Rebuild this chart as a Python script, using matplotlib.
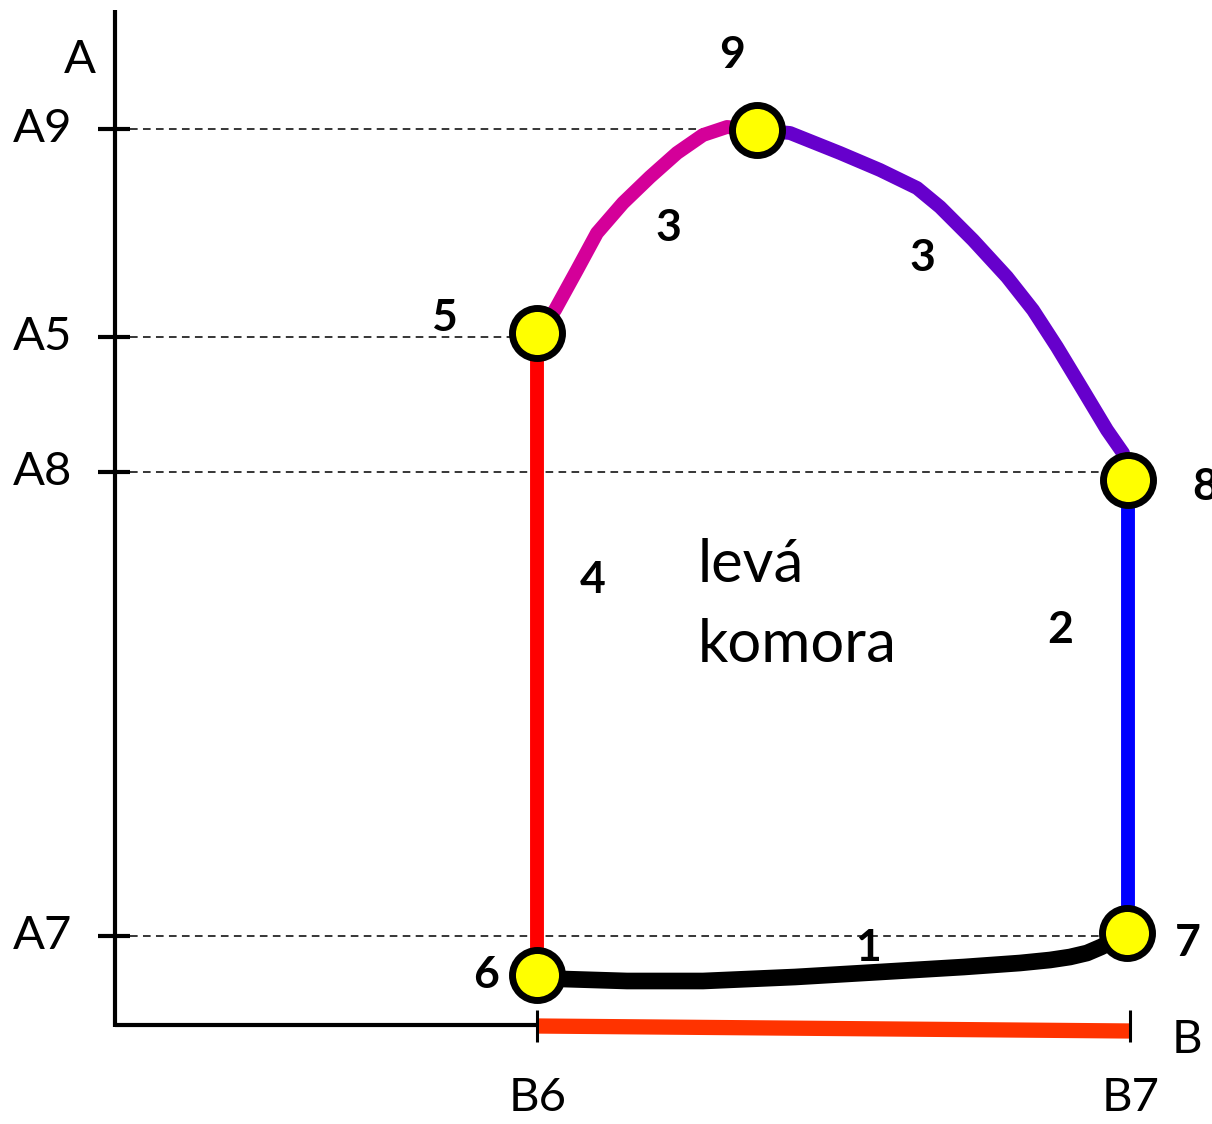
import matplotlib
matplotlib.use('Agg')

import matplotlib.pyplot as plt

plt.rcParams['font.family'] = ['Lato', 'DejaVu Sans']

# Schematic pressure-volume loop (arbitrary units, origin at the axes corner)
# Loop corner points: label, volume, pressure
point_labels = ['6', '7', '8', '9', '5']
point_vol = [422, 1012, 1013, 642, 422]
point_pres = [50, 92, 545, 895, 692]

# Segment 1 (6 -> 7), filling
seg1_vol = [422, 448, 512, 588, 680, 765, 849, 905, 935, 955, 972, 986, 998, 1012]
seg1_pres = [50, 46, 44, 44, 48, 53, 58, 62, 65, 68, 72, 78, 84, 92]
# Segment 2 (7 -> 8), isovolumic contraction
seg2_vol = [1013, 1013]
seg2_pres = [92, 545]
# Segment 3a (8 -> 9), ejection
seg3a_vol = [1013, 1008, 992, 968, 942, 918, 892, 858, 825, 802, 765, 725, 675, 642]
seg3a_pres = [545, 572, 595, 635, 678, 715, 748, 785, 818, 837, 855, 872, 892, 895]
# Segment 3b (9 -> 5)
seg3b_vol = [642, 612, 588, 562, 535, 508, 482, 462, 440, 422]
seg3b_pres = [895, 898, 890, 872, 848, 822, 792, 755, 715, 692]
# Segment 4 (5 -> 6), isovolumic relaxation
seg4_vol = [422, 422]
seg4_pres = [692, 50]

# Stroke volume bar on the volume axis
sv_vol = [422, 1015]
sv_pres = [-1, -6]

# Axis ticks
a_ticks = [896, 688, 553, 89]
a_labels = ['A9', 'A5', 'A8', 'A7']
a_ends = [642, 422, 1013, 1012]
b_ticks = [422, 1015]
b_labels = ['B6', 'B7']

# Segment numbers: text, volume, pressure
seg_text = ['1', '2', '3', '3', '4']
seg_vol = [753, 945, 553, 807, 478]
seg_pres = [77, 395, 797, 767, 445]

# Colours
C_SEG1 = 'black'
C_SEG2 = '#0000FF'
C_SEG3A = '#6600CC'
C_SEG3B = '#D40099'
C_SEG4 = '#FF0000'
C_SV = '#FF3300'
C_POINT = '#FFFF00'

fig = plt.figure(figsize=(12.12, 11.24), dpi=100)
ax = fig.add_axes([0, 0, 1, 1])
ax.set_xlim(-115, 1097)
ax.set_ylim(-99, 1025)
ax.axis('off')

# axes
ax.plot([0, 0], [-2, 1015], color='black', lw=3, solid_capstyle='butt')
ax.plot([0, 422], [0, 0], color='black', lw=3, solid_capstyle='butt')

# A ticks, labels and dashed guides
for val, lab, end in zip(a_ticks, a_labels, a_ends):
    ax.plot([-17, 15], [val, val], color='black', lw=3, solid_capstyle='butt')
    ax.plot([15, end], [val, val], color='black', lw=1.1, ls=(0, (5, 3.5)))
    ax.text(-43, val, lab, ha='right', va='center', fontsize=34)
ax.text(-35, 965, 'A', ha='center', va='center', fontsize=34)

# stroke volume bar and B ticks
ax.plot(sv_vol, sv_pres, color=C_SV, lw=11, solid_capstyle='butt')
for val, lab in zip(b_ticks, b_labels):
    ax.plot([val, val], [-17, 15], color='black', lw=2.2, solid_capstyle='butt')
    ax.text(val + 1, -73, lab, ha='center', va='center', fontsize=34)
ax.text(1072, -15, 'B', ha='center', va='center', fontsize=34)

# loop segments
kw = dict(solid_capstyle='butt', solid_joinstyle='round')
ax.plot(seg4_vol, seg4_pres, color=C_SEG4, lw=10, **kw)
ax.plot(seg2_vol, seg2_pres, color=C_SEG2, lw=10, **kw)
ax.plot(seg3a_vol, seg3a_pres, color=C_SEG3A, lw=10, **kw)
ax.plot(seg3b_vol, seg3b_pres, color=C_SEG3B, lw=10, **kw)
ax.plot(seg1_vol, seg1_pres, color=C_SEG1, lw=12, **kw)

# corner points
ax.plot(point_vol, point_pres, ls='none', marker='o', ms=36,
        mfc=C_POINT, mec='black', mew=5, zorder=5)

# point numbers
num_off = {'6': (-51, 0, 'center'), '7': (61, -10, 'center'),
           '8': (64, -7, 'left'), '9': (-25, 75, 'center'),
           '5': (-93, 15, 'center')}
for lab, v, p in zip(point_labels, point_vol, point_pres):
    dx, dy, ha = num_off[lab]
    ax.text(v + dx, p + dy, lab, ha=ha, va='center', fontsize=32,
            fontweight='bold')

for t, v, p in zip(seg_text, seg_vol, seg_pres):
    ax.text(v, p, t, ha='center', va='center', fontsize=32, fontweight='bold')

ax.text(583, 460, 'levá', ha='left', va='center', fontsize=43)
ax.text(583, 380, 'komora', ha='left', va='center', fontsize=43)

fig.savefig('out.png', dpi=100)
